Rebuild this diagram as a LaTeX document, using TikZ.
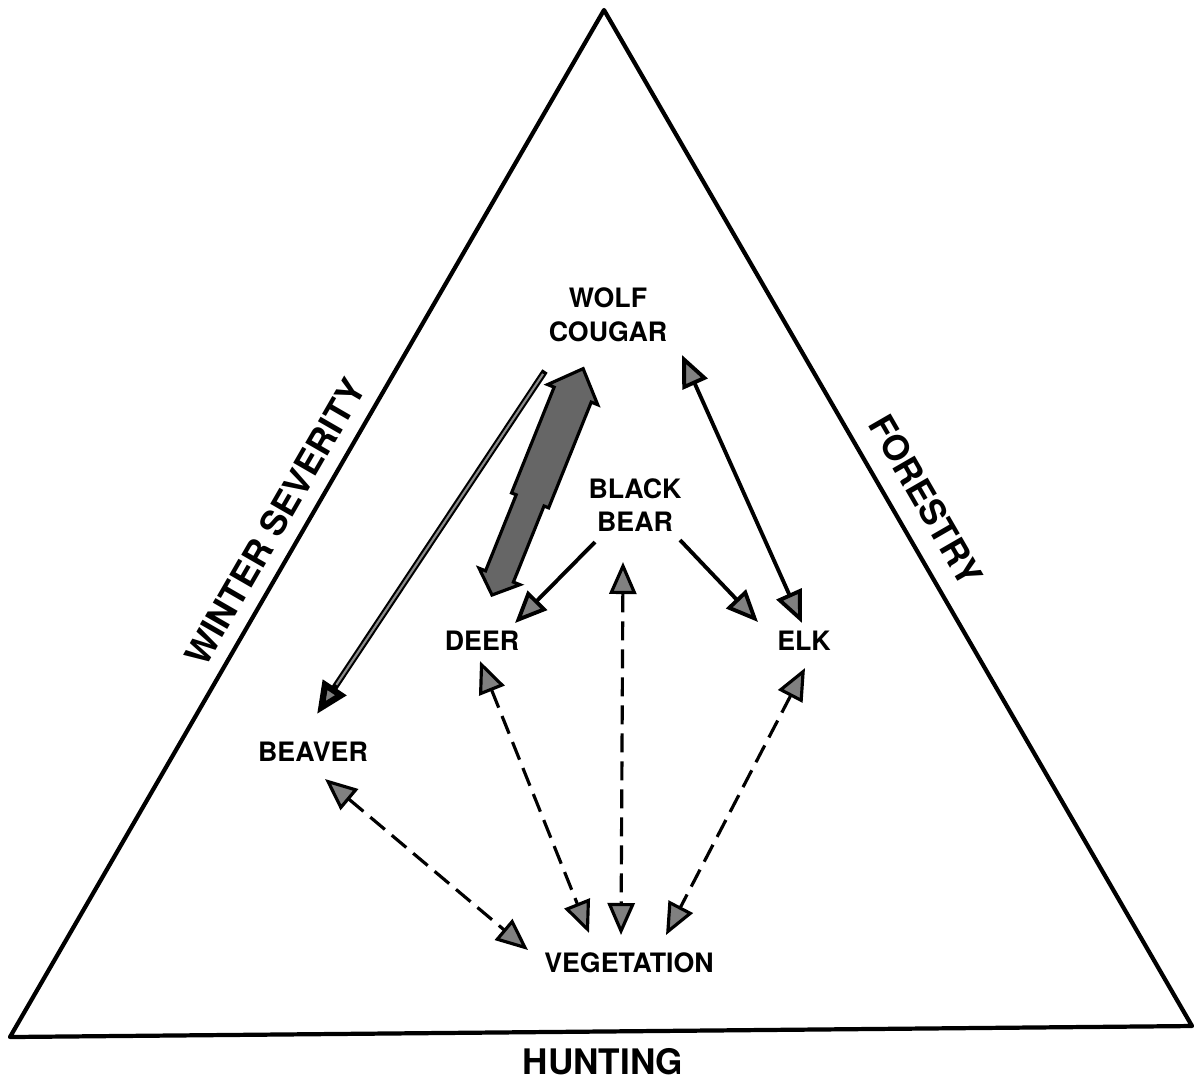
\documentclass[tikz,border=0pt]{standalone}
\usepackage{fontspec}
\setmainfont{TeX Gyre Heros}
\usetikzlibrary{arrows.meta}

\begin{document}
\begin{tikzpicture}[x=0.01cm,y=-0.01cm,>={Triangle[length=3.2mm,width=2.7mm,fill=black!50]},
    animal/.style={font=\bfseries\fontsize{7.6}{9.6}\selectfont,align=center,inner sep=1pt},
    pressure/.style={font=\bfseries\fontsize{10}{12}\selectfont,inner sep=1pt},
    solid link/.style={draw=black,line width=1.1pt},
    dashed link/.style={draw=black,line width=0.9pt,dash pattern=on 1.9mm off 0.9mm}]

    \useasboundingbox (0,0) rectangle (1198,1078);

    % outer triangle
    \coordinate (apex) at (604,10);
    \coordinate (bl) at (10,1037);
    \coordinate (br) at (1192,1026);
    \draw[line width=1.2pt,line join=round] (apex) -- (bl) -- (br) -- cycle;

    \node[pressure] (hunting) at (603,1062) {HUNTING};
    \node[pressure,rotate=60] (winter) at (275,522) {WINTER SEVERITY};
    \node[pressure,rotate=-60] (forestry) at (926,500) {FORESTRY};

    % animals
    \node[animal] (wolf) at (608,315) {WOLF\\COUGAR};
    \node[animal] (bear) at (635,505) {BLACK\\BEAR};
    \node[animal] (deer) at (482,641) {DEER};
    \node[animal] (elk) at (804,641) {ELK};
    \node[animal] (beaver) at (313,752) {BEAVER};
    \node[animal] (veg) at (629,963) {VEGETATION};

    % arrow ends
    \coordinate (wolf-bv) at (545,371);
    \coordinate (beaver-in) at (317,714);
    \coordinate (wolf-fat) at (583,369);
    \coordinate (deer-fat) at (492,595);
    \coordinate (bear-dr) at (595,542);
    \coordinate (deer-in) at (515,623);
    \coordinate (bear-ek) at (680,540);
    \coordinate (elk-in) at (758,622);
    \coordinate (wolf-ek) at (682,355);
    \coordinate (elk-wf) at (802,623);
    \coordinate (bear-vg) at (623,562);
    \coordinate (veg-br) at (621,935);
    \coordinate (deer-vg) at (480,661);
    \coordinate (veg-dr) at (589,933);
    \coordinate (beaver-vg) at (325,779);
    \coordinate (veg-bv) at (528,950);
    \coordinate (elk-vg) at (805,668);
    \coordinate (veg-ek) at (666,935);

    % predation
    \begin{scope}[shift={(deer-fat)},rotate=68.07]
        \filldraw[fill=black!60,line width=0.9pt,line join=miter]
            (0,0) -- (20,22) -- (20,15) -- (102,15) -- (102,20) -- (216,20) -- (216,27) -- (244,0)
            -- (216,-27) -- (216,-20) -- (102,-20) -- (102,-15) -- (20,-15) -- (20,-22) -- cycle;
    \end{scope}
    \draw[solid link,line width=1.8pt,->] (wolf-bv) -- (beaver-in);
    \draw[black!45,line width=0.6pt,shorten >=3.5mm,shorten <=1pt] (wolf-bv) -- (beaver-in);
    \draw[solid link,<->] (wolf-ek) -- (elk-wf);
    \draw[solid link,->] (bear-dr) -- (deer-in);
    \draw[solid link,->] (bear-ek) -- (elk-in);

    % browsing
    \draw[dashed link,<->] (bear-vg) -- (veg-br);
    \draw[dashed link,<->] (deer-vg) -- (veg-dr);
    \draw[dashed link,<->] (beaver-vg) -- (veg-bv);
    \draw[dashed link,<->] (elk-vg) -- (veg-ek);

\end{tikzpicture}
\end{document}
